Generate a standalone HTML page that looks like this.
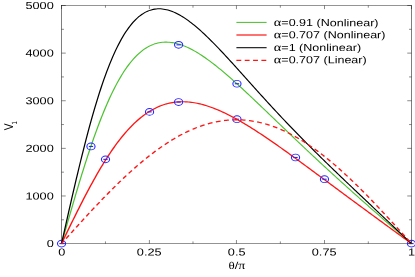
<!DOCTYPE html><html><head><meta charset="utf-8"><style>html,body{margin:0;padding:0;background:#fff}svg{display:block;will-change:transform;opacity:0.999}text{text-rendering:geometricPrecision;font-family:"Liberation Sans",sans-serif;font-size:10.2px;fill:#000}</style></head><body>
<svg width="415" height="277" viewBox="0 0 415 277">
<rect width="415" height="277" fill="#fff"/>
<g transform="scale(1.2 1)" fill="none">
<rect x="51.29" y="5.50" width="291.58" height="238.10" stroke="#000" stroke-width="0.42"/>
<path d="M51.29 243.60 v-3.6 M51.29 5.50 v3.6 M87.88 243.60 v-2.2 M87.88 5.50 v2.2 M124.50 243.60 v-3.6 M124.50 5.50 v3.6 M160.83 243.60 v-2.2 M160.83 5.50 v2.2 M197.04 243.60 v-3.6 M197.04 5.50 v3.6 M233.63 243.60 v-2.2 M233.63 5.50 v2.2 M270.42 243.60 v-3.6 M270.42 5.50 v3.6 M306.92 243.60 v-2.2 M306.92 5.50 v2.2 M342.88 243.60 v-3.6 M342.88 5.50 v3.6 M51.29 243.60 h3.50 M342.88 243.60 h-3.50 M51.29 219.79 h2.00 M342.88 219.79 h-2.00 M51.29 195.98 h3.50 M342.88 195.98 h-3.50 M51.29 172.17 h2.00 M342.88 172.17 h-2.00 M51.29 148.36 h3.50 M342.88 148.36 h-3.50 M51.29 124.55 h2.00 M342.88 124.55 h-2.00 M51.29 100.74 h3.50 M342.88 100.74 h-3.50 M51.29 76.93 h2.00 M342.88 76.93 h-2.00 M51.29 53.12 h3.50 M342.88 53.12 h-3.50 M51.29 29.31 h2.00 M342.88 29.31 h-2.00 M51.29 5.50 h3.50 M342.88 5.50 h-3.50" stroke="#000" stroke-width="0.42"/>
<circle cx="51.29" cy="243.60" r="3.4" stroke="#2626ff" stroke-width="0.9"/><path d="M49.49 243.60 h3.6" stroke="#2626ff" stroke-width="1.1"/>
<circle cx="197.46" cy="119.22" r="3.4" stroke="#2626ff" stroke-width="0.9"/><path d="M195.66 119.22 h3.6" stroke="#2626ff" stroke-width="1.1"/>
<circle cx="342.88" cy="243.60" r="3.4" stroke="#2626ff" stroke-width="0.9"/><path d="M341.07 243.60 h3.6" stroke="#2626ff" stroke-width="1.1"/>
<path d="M51.29 243.60 L52.51 238.49 L53.72 233.38 L54.94 228.28 L56.15 223.19 L57.37 218.13 L58.58 213.08 L59.80 208.06 L61.01 203.07 L62.23 198.11 L63.44 193.19 L64.66 188.31 L65.87 183.48 L67.09 178.70 L68.30 173.97 L69.52 169.30 L70.73 164.69 L71.95 160.14 L73.16 155.66 L74.38 151.25 L75.59 146.91 L76.81 142.64 L78.02 138.45 L79.24 134.34 L80.45 130.32 L81.66 126.37 L82.88 122.52 L84.09 118.74 L85.31 115.06 L86.52 111.47 L87.74 107.97 L88.95 104.57 L90.17 101.25 L91.38 98.03 L92.60 94.91 L93.81 91.88 L95.03 88.95 L96.24 86.11 L97.46 83.37 L98.67 80.73 L99.89 78.18 L101.10 75.72 L102.32 73.37 L103.53 71.11 L104.75 68.94 L105.96 66.86 L107.18 64.88 L108.39 62.99 L109.61 61.20 L110.82 59.49 L112.04 57.87 L113.25 56.34 L114.47 54.90 L115.68 53.54 L116.90 52.27 L118.11 51.08 L119.33 49.97 L120.54 48.94 L121.76 47.99 L122.97 47.12 L124.19 46.32 L125.40 45.60 L126.62 44.95 L127.83 44.37 L129.05 43.86 L130.26 43.42 L131.48 43.04 L132.69 42.73 L133.91 42.49 L135.12 42.30 L136.34 42.18 L137.55 42.11 L138.77 42.10 L139.98 42.15 L141.20 42.25 L142.41 42.40 L143.63 42.61 L144.84 42.86 L146.06 43.16 L147.27 43.51 L148.49 43.91 L149.70 44.34 L150.92 44.82 L152.13 45.34 L153.35 45.90 L154.56 46.50 L155.78 47.14 L156.99 47.81 L158.21 48.52 L159.42 49.26 L160.64 50.03 L161.85 50.83 L163.07 51.67 L164.28 52.53 L165.50 53.42 L166.71 54.34 L167.93 55.28 L169.14 56.25 L170.35 57.24 L171.57 58.25 L172.78 59.29 L174.00 60.34 L175.21 61.42 L176.43 62.52 L177.64 63.63 L178.86 64.76 L180.07 65.91 L181.29 67.08 L182.50 68.26 L183.72 69.45 L184.93 70.66 L186.15 71.89 L187.36 73.12 L188.58 74.37 L189.79 75.63 L191.01 76.90 L192.22 78.18 L193.44 79.47 L194.65 80.77 L195.87 82.07 L197.08 83.39 L198.30 84.71 L199.51 86.04 L200.73 87.38 L201.94 88.72 L203.16 90.07 L204.37 91.43 L205.59 92.79 L206.80 94.15 L208.02 95.52 L209.23 96.89 L210.45 98.27 L211.66 99.65 L212.88 101.03 L214.09 102.42 L215.31 103.81 L216.52 105.20 L217.74 106.59 L218.95 107.99 L220.17 109.38 L221.38 110.78 L222.60 112.18 L223.81 113.58 L225.03 114.98 L226.24 116.38 L227.46 117.78 L228.67 119.18 L229.89 120.58 L231.10 121.98 L232.32 123.38 L233.53 124.78 L234.75 126.18 L235.96 127.58 L237.18 128.97 L238.39 130.37 L239.61 131.77 L240.82 133.16 L242.04 134.55 L243.25 135.94 L244.47 137.33 L245.68 138.72 L246.90 140.11 L248.11 141.49 L249.33 142.88 L250.54 144.26 L251.76 145.64 L252.97 147.01 L254.19 148.39 L255.40 149.76 L256.61 151.13 L257.83 152.50 L259.04 153.87 L260.26 155.23 L261.47 156.60 L262.69 157.96 L263.90 159.32 L265.12 160.67 L266.33 162.03 L267.55 163.38 L268.76 164.73 L269.98 166.07 L271.19 167.42 L272.41 168.76 L273.62 170.10 L274.84 171.44 L276.05 172.77 L277.27 174.11 L278.48 175.44 L279.70 176.77 L280.91 178.09 L282.13 179.42 L283.34 180.74 L284.56 182.06 L285.77 183.38 L286.99 184.69 L288.20 186.01 L289.42 187.32 L290.63 188.63 L291.85 189.93 L293.06 191.24 L294.28 192.54 L295.49 193.85 L296.71 195.15 L297.92 196.44 L299.14 197.74 L300.35 199.04 L301.57 200.33 L302.78 201.62 L304.00 202.91 L305.21 204.20 L306.43 205.48 L307.64 206.77 L308.86 208.05 L310.07 209.34 L311.29 210.62 L312.50 211.90 L313.72 213.17 L314.93 214.45 L316.15 215.73 L317.36 217.00 L318.58 218.28 L319.79 219.55 L321.01 220.82 L322.22 222.09 L323.44 223.36 L324.65 224.63 L325.87 225.90 L327.08 227.17 L328.30 228.43 L329.51 229.70 L330.73 230.96 L331.94 232.23 L333.16 233.49 L334.37 234.76 L335.59 236.02 L336.80 237.29 L338.02 238.55 L339.23 239.81 L340.45 241.07 L341.66 242.34 L342.88 243.60" stroke="#4cc230" stroke-width="1.05"/>
<path d="M51.29 243.60 L52.51 240.59 L53.72 237.57 L54.94 234.57 L56.15 231.56 L57.37 228.57 L58.58 225.58 L59.80 222.60 L61.01 219.63 L62.23 216.68 L63.44 213.74 L64.66 210.82 L65.87 207.92 L67.09 205.04 L68.30 202.18 L69.52 199.34 L70.73 196.53 L71.95 193.74 L73.16 190.98 L74.38 188.25 L75.59 185.55 L76.81 182.88 L78.02 180.24 L79.24 177.64 L80.45 175.07 L81.66 172.54 L82.88 170.04 L84.09 167.59 L85.31 165.17 L86.52 162.79 L87.74 160.45 L88.95 158.16 L90.17 155.90 L91.38 153.69 L92.60 151.53 L93.81 149.40 L95.03 147.33 L96.24 145.30 L97.46 143.31 L98.67 141.37 L99.89 139.48 L101.10 137.63 L102.32 135.84 L103.53 134.09 L104.75 132.39 L105.96 130.73 L107.18 129.13 L108.39 127.57 L109.61 126.06 L110.82 124.60 L112.04 123.19 L113.25 121.83 L114.47 120.51 L115.68 119.24 L116.90 118.02 L118.11 116.85 L119.33 115.73 L120.54 114.65 L121.76 113.62 L122.97 112.64 L124.19 111.70 L125.40 110.81 L126.62 109.96 L127.83 109.16 L129.05 108.40 L130.26 107.69 L131.48 107.02 L132.69 106.39 L133.91 105.81 L135.12 105.26 L136.34 104.76 L137.55 104.30 L138.77 103.88 L139.98 103.50 L141.20 103.16 L142.41 102.86 L143.63 102.59 L144.84 102.37 L146.06 102.18 L147.27 102.02 L148.49 101.90 L149.70 101.82 L150.92 101.77 L152.13 101.75 L153.35 101.77 L154.56 101.82 L155.78 101.90 L156.99 102.01 L158.21 102.15 L159.42 102.32 L160.64 102.52 L161.85 102.75 L163.07 103.01 L164.28 103.29 L165.50 103.60 L166.71 103.93 L167.93 104.30 L169.14 104.68 L170.35 105.09 L171.57 105.52 L172.78 105.98 L174.00 106.46 L175.21 106.96 L176.43 107.48 L177.64 108.02 L178.86 108.59 L180.07 109.17 L181.29 109.77 L182.50 110.39 L183.72 111.03 L184.93 111.68 L186.15 112.35 L187.36 113.04 L188.58 113.75 L189.79 114.47 L191.01 115.20 L192.22 115.95 L193.44 116.71 L194.65 117.49 L195.87 118.28 L197.08 119.08 L198.30 119.90 L199.51 120.73 L200.73 121.57 L201.94 122.42 L203.16 123.28 L204.37 124.15 L205.59 125.03 L206.80 125.92 L208.02 126.82 L209.23 127.73 L210.45 128.65 L211.66 129.58 L212.88 130.51 L214.09 131.46 L215.31 132.41 L216.52 133.37 L217.74 134.33 L218.95 135.30 L220.17 136.28 L221.38 137.26 L222.60 138.25 L223.81 139.25 L225.03 140.25 L226.24 141.25 L227.46 142.26 L228.67 143.28 L229.89 144.30 L231.10 145.32 L232.32 146.35 L233.53 147.38 L234.75 148.41 L235.96 149.45 L237.18 150.49 L238.39 151.54 L239.61 152.58 L240.82 153.63 L242.04 154.69 L243.25 155.74 L244.47 156.80 L245.68 157.86 L246.90 158.92 L248.11 159.98 L249.33 161.05 L250.54 162.12 L251.76 163.19 L252.97 164.26 L254.19 165.33 L255.40 166.40 L256.61 167.47 L257.83 168.55 L259.04 169.62 L260.26 170.70 L261.47 171.78 L262.69 172.85 L263.90 173.93 L265.12 175.01 L266.33 176.09 L267.55 177.17 L268.76 178.25 L269.98 179.33 L271.19 180.41 L272.41 181.49 L273.62 182.57 L274.84 183.65 L276.05 184.73 L277.27 185.81 L278.48 186.89 L279.70 187.97 L280.91 189.05 L282.13 190.13 L283.34 191.21 L284.56 192.29 L285.77 193.36 L286.99 194.44 L288.20 195.52 L289.42 196.60 L290.63 197.68 L291.85 198.75 L293.06 199.83 L294.28 200.90 L295.49 201.98 L296.71 203.05 L297.92 204.13 L299.14 205.20 L300.35 206.28 L301.57 207.35 L302.78 208.42 L304.00 209.49 L305.21 210.57 L306.43 211.64 L307.64 212.71 L308.86 213.78 L310.07 214.85 L311.29 215.92 L312.50 216.99 L313.72 218.05 L314.93 219.12 L316.15 220.19 L317.36 221.26 L318.58 222.32 L319.79 223.39 L321.01 224.46 L322.22 225.52 L323.44 226.59 L324.65 227.65 L325.87 228.72 L327.08 229.78 L328.30 230.84 L329.51 231.91 L330.73 232.97 L331.94 234.04 L333.16 235.10 L334.37 236.16 L335.59 237.22 L336.80 238.29 L338.02 239.35 L339.23 240.41 L340.45 241.48 L341.66 242.54 L342.88 243.60" stroke="#ff1414" stroke-width="1.2"/>
<path d="M51.29 243.60 L52.51 237.10 L53.72 230.60 L54.94 224.12 L56.15 217.65 L57.37 211.22 L58.58 204.82 L59.80 198.46 L61.01 192.15 L62.23 185.89 L63.44 179.69 L64.66 173.55 L65.87 167.49 L67.09 161.50 L68.30 155.60 L69.52 149.79 L70.73 144.06 L71.95 138.43 L73.16 132.91 L74.38 127.48 L75.59 122.17 L76.81 116.97 L78.02 111.88 L79.24 106.91 L80.45 102.06 L81.66 97.34 L82.88 92.74 L84.09 88.26 L85.31 83.92 L86.52 79.70 L87.74 75.61 L88.95 71.65 L90.17 67.83 L91.38 64.14 L92.60 60.57 L93.81 57.14 L95.03 53.85 L96.24 50.68 L97.46 47.64 L98.67 44.73 L99.89 41.95 L101.10 39.29 L102.32 36.76 L103.53 34.36 L104.75 32.07 L105.96 29.91 L107.18 27.87 L108.39 25.94 L109.61 24.13 L110.82 22.43 L112.04 20.85 L113.25 19.37 L114.47 18.00 L115.68 16.73 L116.90 15.57 L118.11 14.51 L119.33 13.55 L120.54 12.68 L121.76 11.91 L122.97 11.23 L124.19 10.64 L125.40 10.13 L126.62 9.71 L127.83 9.37 L129.05 9.12 L130.26 8.94 L131.48 8.84 L132.69 8.81 L133.91 8.85 L135.12 8.96 L136.34 9.15 L137.55 9.39 L138.77 9.70 L139.98 10.07 L141.20 10.50 L142.41 10.99 L143.63 11.54 L144.84 12.14 L146.06 12.79 L147.27 13.49 L148.49 14.24 L149.70 15.03 L150.92 15.87 L152.13 16.76 L153.35 17.68 L154.56 18.65 L155.78 19.65 L156.99 20.70 L158.21 21.77 L159.42 22.89 L160.64 24.03 L161.85 25.21 L163.07 26.41 L164.28 27.65 L165.50 28.91 L166.71 30.20 L167.93 31.51 L169.14 32.84 L170.35 34.20 L171.57 35.58 L172.78 36.98 L174.00 38.40 L175.21 39.84 L176.43 41.30 L177.64 42.77 L178.86 44.25 L180.07 45.75 L181.29 47.27 L182.50 48.79 L183.72 50.33 L184.93 51.88 L186.15 53.43 L187.36 55.00 L188.58 56.57 L189.79 58.16 L191.01 59.75 L192.22 61.34 L193.44 62.94 L194.65 64.55 L195.87 66.16 L197.08 67.77 L198.30 69.39 L199.51 71.01 L200.73 72.63 L201.94 74.26 L203.16 75.88 L204.37 77.51 L205.59 79.13 L206.80 80.76 L208.02 82.38 L209.23 84.01 L210.45 85.63 L211.66 87.25 L212.88 88.87 L214.09 90.49 L215.31 92.10 L216.52 93.72 L217.74 95.33 L218.95 96.93 L220.17 98.53 L221.38 100.13 L222.60 101.73 L223.81 103.32 L225.03 104.91 L226.24 106.49 L227.46 108.07 L228.67 109.64 L229.89 111.21 L231.10 112.78 L232.32 114.34 L233.53 115.90 L234.75 117.45 L235.96 118.99 L237.18 120.53 L238.39 122.07 L239.61 123.60 L240.82 125.13 L242.04 126.65 L243.25 128.16 L244.47 129.68 L245.68 131.18 L246.90 132.68 L248.11 134.18 L249.33 135.67 L250.54 137.16 L251.76 138.64 L252.97 140.12 L254.19 141.60 L255.40 143.07 L256.61 144.53 L257.83 145.99 L259.04 147.45 L260.26 148.90 L261.47 150.35 L262.69 151.80 L263.90 153.24 L265.12 154.68 L266.33 156.11 L267.55 157.54 L268.76 158.97 L269.98 160.40 L271.19 161.82 L272.41 163.24 L273.62 164.65 L274.84 166.07 L276.05 167.48 L277.27 168.88 L278.48 170.29 L279.70 171.69 L280.91 173.10 L282.13 174.49 L283.34 175.89 L284.56 177.29 L285.77 178.68 L286.99 180.07 L288.20 181.47 L289.42 182.86 L290.63 184.24 L291.85 185.63 L293.06 187.02 L294.28 188.40 L295.49 189.79 L296.71 191.17 L297.92 192.55 L299.14 193.93 L300.35 195.31 L301.57 196.70 L302.78 198.08 L304.00 199.46 L305.21 200.83 L306.43 202.21 L307.64 203.59 L308.86 204.97 L310.07 206.35 L311.29 207.73 L312.50 209.11 L313.72 210.49 L314.93 211.86 L316.15 213.24 L317.36 214.62 L318.58 216.00 L319.79 217.38 L321.01 218.76 L322.22 220.14 L323.44 221.52 L324.65 222.89 L325.87 224.27 L327.08 225.65 L328.30 227.03 L329.51 228.41 L330.73 229.79 L331.94 231.17 L333.16 232.55 L334.37 233.93 L335.59 235.32 L336.80 236.70 L338.02 238.08 L339.23 239.46 L340.45 240.84 L341.66 242.22 L342.88 243.60" stroke="#000" stroke-width="1.05"/>
<path d="M51.29 243.60 L52.51 241.98 L53.72 240.36 L54.94 238.74 L56.15 237.12 L57.37 235.50 L58.58 233.89 L59.80 232.27 L61.01 230.66 L62.23 229.05 L63.44 227.44 L64.66 225.83 L65.87 224.23 L67.09 222.63 L68.30 221.04 L69.52 219.45 L70.73 217.86 L71.95 216.28 L73.16 214.70 L74.38 213.12 L75.59 211.56 L76.81 209.99 L78.02 208.44 L79.24 206.88 L80.45 205.34 L81.66 203.80 L82.88 202.27 L84.09 200.75 L85.31 199.23 L86.52 197.72 L87.74 196.22 L88.95 194.73 L90.17 193.24 L91.38 191.76 L92.60 190.30 L93.81 188.84 L95.03 187.39 L96.24 185.95 L97.46 184.52 L98.67 183.10 L99.89 181.69 L101.10 180.30 L102.32 178.91 L103.53 177.53 L104.75 176.17 L105.96 174.81 L107.18 173.47 L108.39 172.14 L109.61 170.83 L110.82 169.52 L112.04 168.23 L113.25 166.95 L114.47 165.68 L115.68 164.43 L116.90 163.19 L118.11 161.97 L119.33 160.75 L120.54 159.56 L121.76 158.37 L122.97 157.21 L124.19 156.05 L125.40 154.91 L126.62 153.79 L127.83 152.68 L129.05 151.59 L130.26 150.51 L131.48 149.45 L132.69 148.41 L133.91 147.38 L135.12 146.37 L136.34 145.37 L137.55 144.40 L138.77 143.43 L139.98 142.49 L141.20 141.56 L142.41 140.65 L143.63 139.76 L144.84 138.89 L146.06 138.03 L147.27 137.20 L148.49 136.38 L149.70 135.57 L150.92 134.79 L152.13 134.03 L153.35 133.28 L154.56 132.56 L155.78 131.85 L156.99 131.16 L158.21 130.49 L159.42 129.84 L160.64 129.21 L161.85 128.60 L163.07 128.01 L164.28 127.44 L165.50 126.89 L166.71 126.36 L167.93 125.85 L169.14 125.36 L170.35 124.89 L171.57 124.44 L172.78 124.01 L174.00 123.60 L175.21 123.21 L176.43 122.84 L177.64 122.49 L178.86 122.17 L180.07 121.86 L181.29 121.58 L182.50 121.31 L183.72 121.07 L184.93 120.85 L186.15 120.65 L187.36 120.47 L188.58 120.31 L189.79 120.17 L191.01 120.05 L192.22 119.96 L193.44 119.88 L194.65 119.83 L195.87 119.80 L197.08 119.79 L198.30 119.80 L199.51 119.83 L200.73 119.88 L201.94 119.96 L203.16 120.05 L204.37 120.17 L205.59 120.31 L206.80 120.47 L208.02 120.65 L209.23 120.85 L210.45 121.07 L211.66 121.31 L212.88 121.58 L214.09 121.86 L215.31 122.17 L216.52 122.49 L217.74 122.84 L218.95 123.21 L220.17 123.60 L221.38 124.01 L222.60 124.44 L223.81 124.89 L225.03 125.36 L226.24 125.85 L227.46 126.36 L228.67 126.89 L229.89 127.44 L231.10 128.01 L232.32 128.60 L233.53 129.21 L234.75 129.84 L235.96 130.49 L237.18 131.16 L238.39 131.85 L239.61 132.56 L240.82 133.28 L242.04 134.03 L243.25 134.79 L244.47 135.57 L245.68 136.38 L246.90 137.20 L248.11 138.03 L249.33 138.89 L250.54 139.76 L251.76 140.65 L252.97 141.56 L254.19 142.49 L255.40 143.43 L256.61 144.40 L257.83 145.37 L259.04 146.37 L260.26 147.38 L261.47 148.41 L262.69 149.45 L263.90 150.51 L265.12 151.59 L266.33 152.68 L267.55 153.79 L268.76 154.91 L269.98 156.05 L271.19 157.21 L272.41 158.37 L273.62 159.56 L274.84 160.75 L276.05 161.97 L277.27 163.19 L278.48 164.43 L279.70 165.68 L280.91 166.95 L282.13 168.23 L283.34 169.52 L284.56 170.83 L285.77 172.14 L286.99 173.47 L288.20 174.81 L289.42 176.17 L290.63 177.53 L291.85 178.91 L293.06 180.30 L294.28 181.69 L295.49 183.10 L296.71 184.52 L297.92 185.95 L299.14 187.39 L300.35 188.84 L301.57 190.30 L302.78 191.76 L304.00 193.24 L305.21 194.73 L306.43 196.22 L307.64 197.72 L308.86 199.23 L310.07 200.75 L311.29 202.27 L312.50 203.80 L313.72 205.34 L314.93 206.88 L316.15 208.44 L317.36 209.99 L318.58 211.56 L319.79 213.12 L321.01 214.70 L322.22 216.28 L323.44 217.86 L324.65 219.45 L325.87 221.04 L327.08 222.63 L328.30 224.23 L329.51 225.83 L330.73 227.44 L331.94 229.05 L333.16 230.66 L334.37 232.27 L335.59 233.89 L336.80 235.50 L338.02 237.12 L339.23 238.74 L340.45 240.36 L341.66 241.98 L342.88 243.60" stroke="#ff1414" stroke-width="1.25" stroke-dasharray="4.05 2.9" stroke-dashoffset="0.6"/>
<circle cx="75.81" cy="146.46" r="3.4" stroke="#2626ff" stroke-width="0.9"/><path d="M74.01 146.46 h3.6" stroke="#2626ff" stroke-width="1.1"/>
<circle cx="87.91" cy="159.36" r="3.4" stroke="#2626ff" stroke-width="0.9"/><path d="M86.11 159.36 h3.6" stroke="#2626ff" stroke-width="1.1"/>
<circle cx="124.62" cy="111.88" r="3.4" stroke="#2626ff" stroke-width="0.9"/><path d="M122.82 111.88 h3.6" stroke="#2626ff" stroke-width="1.1"/>
<circle cx="148.83" cy="102.03" r="3.4" stroke="#2626ff" stroke-width="0.9"/><path d="M147.03 102.03 h3.6" stroke="#2626ff" stroke-width="1.1"/>
<circle cx="148.83" cy="44.83" r="3.4" stroke="#2626ff" stroke-width="0.9"/><path d="M147.03 44.83 h3.6" stroke="#2626ff" stroke-width="1.1"/>
<circle cx="197.46" cy="83.74" r="3.4" stroke="#2626ff" stroke-width="0.9"/><path d="M195.66 83.74 h3.6" stroke="#2626ff" stroke-width="1.1"/>
<circle cx="246.27" cy="157.50" r="3.4" stroke="#2626ff" stroke-width="0.9"/><path d="M244.47 157.50 h3.6" stroke="#2626ff" stroke-width="1.1"/>
<circle cx="270.39" cy="179.22" r="3.4" stroke="#2626ff" stroke-width="0.9"/><path d="M268.59 179.22 h3.6" stroke="#2626ff" stroke-width="1.1"/>
<path d="M197.00 22.4 H222.17" stroke="#4cc230" stroke-width="1.05"/>
<path d="M197.00 35.0 H222.17" stroke="#ff1414" stroke-width="1.2"/>
<path d="M197.00 47.7 H222.17" stroke="#000" stroke-width="1.05"/>
<path d="M197.00 60.4 H222.17" stroke="#ff1414" stroke-width="1.25" stroke-dasharray="4.05 2.9" stroke-dashoffset="0"/>
</g>
<text transform="translate(61.75 255.60) rotate(0.03) scale(1.250 1)" text-anchor="middle" >0</text>
<text transform="translate(149.22 255.60) rotate(0.03) scale(1.250 1)" text-anchor="middle" >0.25</text>
<text transform="translate(236.70 255.60) rotate(0.03) scale(1.250 1)" text-anchor="middle" >0.5</text>
<text transform="translate(324.17 255.60) rotate(0.03) scale(1.250 1)" text-anchor="middle" >0.75</text>
<text transform="translate(411.65 255.60) rotate(0.03) scale(1.250 1)" text-anchor="middle" >1</text>
<text transform="translate(53.80 247.10) rotate(0.03) scale(1.250 1)" text-anchor="end" >0</text>
<text transform="translate(53.80 199.48) rotate(0.03) scale(1.250 1)" text-anchor="end" >1000</text>
<text transform="translate(53.80 151.86) rotate(0.03) scale(1.250 1)" text-anchor="end" >2000</text>
<text transform="translate(53.80 104.24) rotate(0.03) scale(1.250 1)" text-anchor="end" >3000</text>
<text transform="translate(53.80 56.62) rotate(0.03) scale(1.250 1)" text-anchor="end" >4000</text>
<text transform="translate(53.80 9.00) rotate(0.03) scale(1.250 1)" text-anchor="end" >5000</text>
<text transform="translate(237.00 268.90) rotate(0.03) scale(1.250 1)" text-anchor="middle" ><tspan font-family="Liberation Serif" font-size="10.4px">&#952;</tspan>/<tspan font-family="Liberation Serif" font-size="11.2px">&#960;</tspan></text>
<text transform="translate(12.7 125.75) rotate(-90) scale(1 1.250)" text-anchor="middle">V<tspan font-size="6px" dy="3.2" dx="-1.0">1</tspan></text>
<text transform="translate(273.80 26.10) rotate(0.03) scale(1.230 1)" text-anchor="start" ><tspan font-family="Liberation Serif" font-size="11.7px">&#945;</tspan>=0.91 (Nonlinear)</text>
<text transform="translate(273.80 38.30) rotate(0.03) scale(1.230 1)" text-anchor="start" ><tspan font-family="Liberation Serif" font-size="11.7px">&#945;</tspan>=0.707 (Nonlinear)</text>
<text transform="translate(273.80 50.90) rotate(0.03) scale(1.230 1)" text-anchor="start" ><tspan font-family="Liberation Serif" font-size="11.7px">&#945;</tspan>=1 (Nonlinear)</text>
<text transform="translate(273.80 63.30) rotate(0.03) scale(1.230 1)" text-anchor="start" ><tspan font-family="Liberation Serif" font-size="11.7px">&#945;</tspan>=0.707 (Linear)</text>
</svg></body></html>
